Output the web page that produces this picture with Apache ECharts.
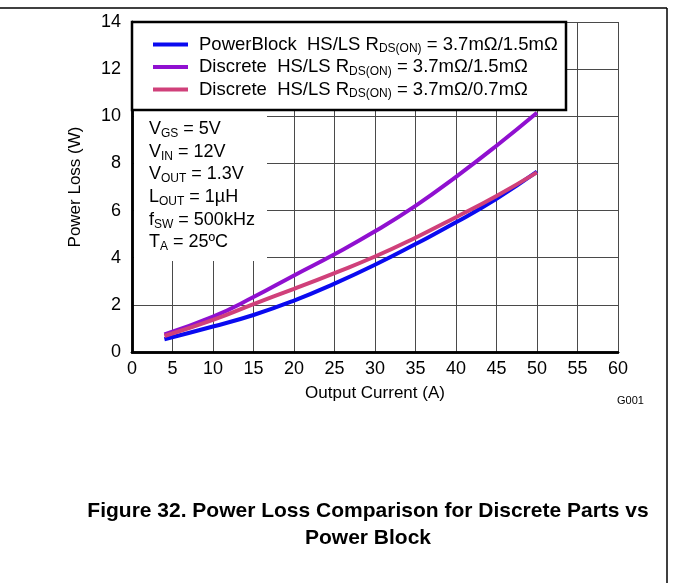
<!DOCTYPE html>
<html>
<head>
<meta charset="utf-8">
<script src="https://cdn.jsdelivr.net/npm/echarts@6/dist/echarts.min.js"></script>
<style>
  html, body { margin: 0; padding: 0; background: #fff; }
  #chart { width: 673px; height: 583px; }
</style>
</head>
<body>
<div id="chart"></div>
<script>
// values
const currents = [4, 10, 15, 20, 25, 30, 35, 40, 45, 50];
const powerBlock = [0.54, 1.08, 1.57, 2.18, 2.9, 3.7, 4.58, 5.5, 6.5, 7.65];
const discrete15 = [0.75, 1.5, 2.33, 3.25, 4.15, 5.12, 6.2, 7.43, 8.75, 10.15];
const discrete07 = [0.68, 1.36, 2.03, 2.68, 3.35, 4.05, 4.85, 5.72, 6.62, 7.62];

const seriesNames = ['PowerBlock', 'Discrete 1.5', 'Discrete 0.7'];
const legendLabels = [
  'PowerBlock  HS/LS R{s|DS(ON)} = 3.7mΩ/1.5mΩ',
  'Discrete  HS/LS R{s|DS(ON)} = 3.7mΩ/1.5mΩ',
  'Discrete  HS/LS R{s|DS(ON)} = 3.7mΩ/0.7mΩ'
];
const colors = ['#0a0af0', '#9010d0', '#d0407a'];
const conditions = 'V{s|GS} = 5V\nV{s|IN} = 12V\nV{s|OUT} = 1.3V\nL{s|OUT} = 1µH\nf{s|SW} = 500kHz\nT{s|A} = 25ºC';

const font = 'Liberation Sans, Arial, sans-serif';
const subStyle = { fontSize: 12, fontFamily: font, color: '#000', padding: [9, 0, 0, 0] };

function pairs(ys) {
  return currents.map((x, i) => [x, ys[i]]);
}

const chart = echarts.init(document.getElementById('chart'));

const axisLine = { show: true, lineStyle: { color: '#000', width: 2.5 } };

chart.setOption({
  animation: false,
  color: colors,
  textStyle: { fontFamily: font },
  title: [
    {
      text: 'Figure 32. Power Loss Comparison for Discrete Parts vs\nPower Block',
      left: 363, top: 493, textAlign: 'center',
      textStyle: { fontFamily: font, fontSize: 21, fontWeight: 'bold', color: '#000', lineHeight: 27 }
    },
    {
      text: 'G001', left: 612, top: 390,
      textStyle: { fontFamily: font, fontSize: 11, fontWeight: 'normal', color: '#000' }
    }
  ],
  grid: { left: 132, top: 22, width: 486, height: 330, containLabel: false },
  legend: {
    orient: 'vertical',
    left: 148, top: 30,
    icon: 'rect',
    itemWidth: 35, itemHeight: 4,
    itemGap: 2.5,
    data: seriesNames,
    formatter: name => legendLabels[seriesNames.indexOf(name)],
    textStyle: {
      fontFamily: font, fontSize: 18.5, color: '#000', lineHeight: 18,
      padding: [0, 0, 0, 6],
      rich: { s: subStyle }
    },
    z: 10
  },
  xAxis: [
    {
      type: 'value', min: 0, max: 60, interval: 5,
      name: 'Output Current (A)', nameLocation: 'middle', nameGap: 33,
      nameTextStyle: { fontFamily: font, fontSize: 17, color: '#000' },
      axisLine: axisLine,
      axisTick: { show: false },
      axisLabel: { fontFamily: font, fontSize: 18, color: '#000', margin: 8 },
      splitLine: { show: true, lineStyle: { color: '#4a4a4a', width: 1 } }
    },
    {
      type: 'value', position: 'top', min: 0, max: 60,
      axisLine: axisLine, axisTick: { show: false }, axisLabel: { show: false },
      splitLine: { show: false }
    }
  ],
  yAxis: [
    {
      type: 'value', min: 0, max: 14, interval: 2,
      name: 'Power Loss (W)', nameLocation: 'middle', nameGap: 48,
      nameTextStyle: { fontFamily: font, fontSize: 17, color: '#000' },
      axisLine: axisLine,
      axisTick: { show: false },
      axisLabel: { fontFamily: font, fontSize: 18, color: '#000', margin: 11 },
      splitLine: { show: true, lineStyle: { color: '#4a4a4a', width: 1 } }
    },
    {
      type: 'value', position: 'right', min: 0, max: 14,
      axisLine: axisLine, axisTick: { show: false }, axisLabel: { show: false },
      splitLine: { show: false }
    }
  ],
  graphic: [
    // page frame
    { type: 'line', shape: { x1: 0, y1: 8, x2: 667, y2: 8 }, style: { stroke: '#000', lineWidth: 1.5 } },
    { type: 'line', shape: { x1: 667, y1: 8, x2: 667, y2: 583 }, style: { stroke: '#000', lineWidth: 1.5 } },
    // legend box
    { type: 'rect', z: 5, shape: { x: 132, y: 22, width: 434, height: 88 },
      style: { fill: '#fff', stroke: '#000', lineWidth: 2.5 } },
    // blank panel behind the conditions
    { type: 'rect', z: 1, shape: { x: 134, y: 111, width: 133, height: 150 }, style: { fill: '#fff' } },
    { type: 'text', z: 6, left: 149, top: 118,
      style: {
        text: conditions, fill: '#000', font: '18px ' + font, lineHeight: 22.6,
        rich: { s: subStyle }
      } }
  ],
  series: [
    { name: seriesNames[0], type: 'line', smooth: true, symbol: 'none', z: 2,
      lineStyle: { width: 4 }, data: pairs(powerBlock) },
    { name: seriesNames[1], type: 'line', smooth: true, symbol: 'none', z: 2,
      lineStyle: { width: 4 }, data: pairs(discrete15) },
    { name: seriesNames[2], type: 'line', smooth: true, symbol: 'none', z: 2,
      lineStyle: { width: 4 }, data: pairs(discrete07) }
  ]
});
</script>
</body>
</html>
